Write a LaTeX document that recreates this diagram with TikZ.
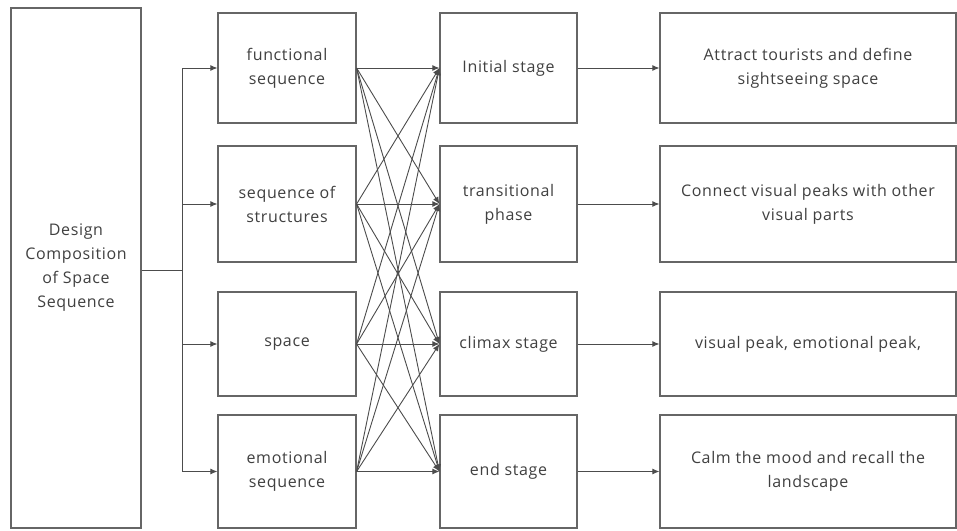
\documentclass[tikz,border=0pt]{standalone}
\usepackage{fontspec}
\setmainfont[LetterSpace=4]{Open Sans}
\usetikzlibrary{arrows.meta}
\begin{document}
\begin{tikzpicture}[x=1pt,y=-1pt,
  box/.style={draw=black!60, line width=1.2pt, fill=white, inner sep=0pt, align=center,
    text=black!75, font=\fontsize{16}{24}\selectfont},
  conn/.style={draw=black!70, line width=0.9pt},
  arr/.style={conn, -{Latex[length=7pt,width=6pt]}}]
\useasboundingbox (0,0) rectangle (957,530);
% left box
\node[box, minimum width=130pt, minimum height=520pt] (L) at (76,268) {Design\\Composition\\of Space\\Sequence};
% column 2
\node[box, minimum width=138pt, minimum height=110pt] (a1) at (287,68) {functional\\sequence};
\node[box, minimum width=138pt, minimum height=116pt] (a2) at (287,204) {sequence of\\structures};
\node[box, minimum width=138pt, minimum height=104pt] (a3) at (287,344) {space};
\node[box, minimum width=138pt, minimum height=113pt] (a4) at (287,471.5) {emotional\\sequence};
% column 3
\node[box, minimum width=137pt, minimum height=110pt] (b1) at (508.5,68) {Initial stage};
\node[box, minimum width=137pt, minimum height=116pt] (b2) at (508.5,204) {transitional\\phase};
\node[box, minimum width=137pt, minimum height=104pt] (b3) at (508.5,344) {climax stage};
\node[box, minimum width=137pt, minimum height=113pt] (b4) at (508.5,471.5) {end stage};
% column 4
\node[box, minimum width=296pt, minimum height=110pt] (c1) at (808,68) {Attract tourists and define\\sightseeing space};
\node[box, minimum width=296pt, minimum height=116pt] (c2) at (808,204) {Connect visual peaks with other\\visual parts};
\node[box, minimum width=296pt, minimum height=104pt] (c3) at (808,344) {visual peak, emotional peak,};
\node[box, minimum width=296pt, minimum height=113pt] (c4) at (808,471.5) {Calm the mood and recall the\\landscape};
% trunk
\coordinate (j) at (182,270);
\draw[conn] (L.east |- j) -- (j);
\draw[conn] (j |- a1.west) -- (j |- a4.west);
\foreach \i in {1,2,3,4} {
  \draw[arr] (j |- a\i.west) -- (a\i.west);
  \draw[arr] (b\i.east) -- (c\i.west);
}
\foreach \i in {1,2,3,4} {
  \foreach \k in {1,2,3,4} {
    \draw[arr] (a\i.east) -- (b\k.west);
  }
}
\end{tikzpicture}
\end{document}
